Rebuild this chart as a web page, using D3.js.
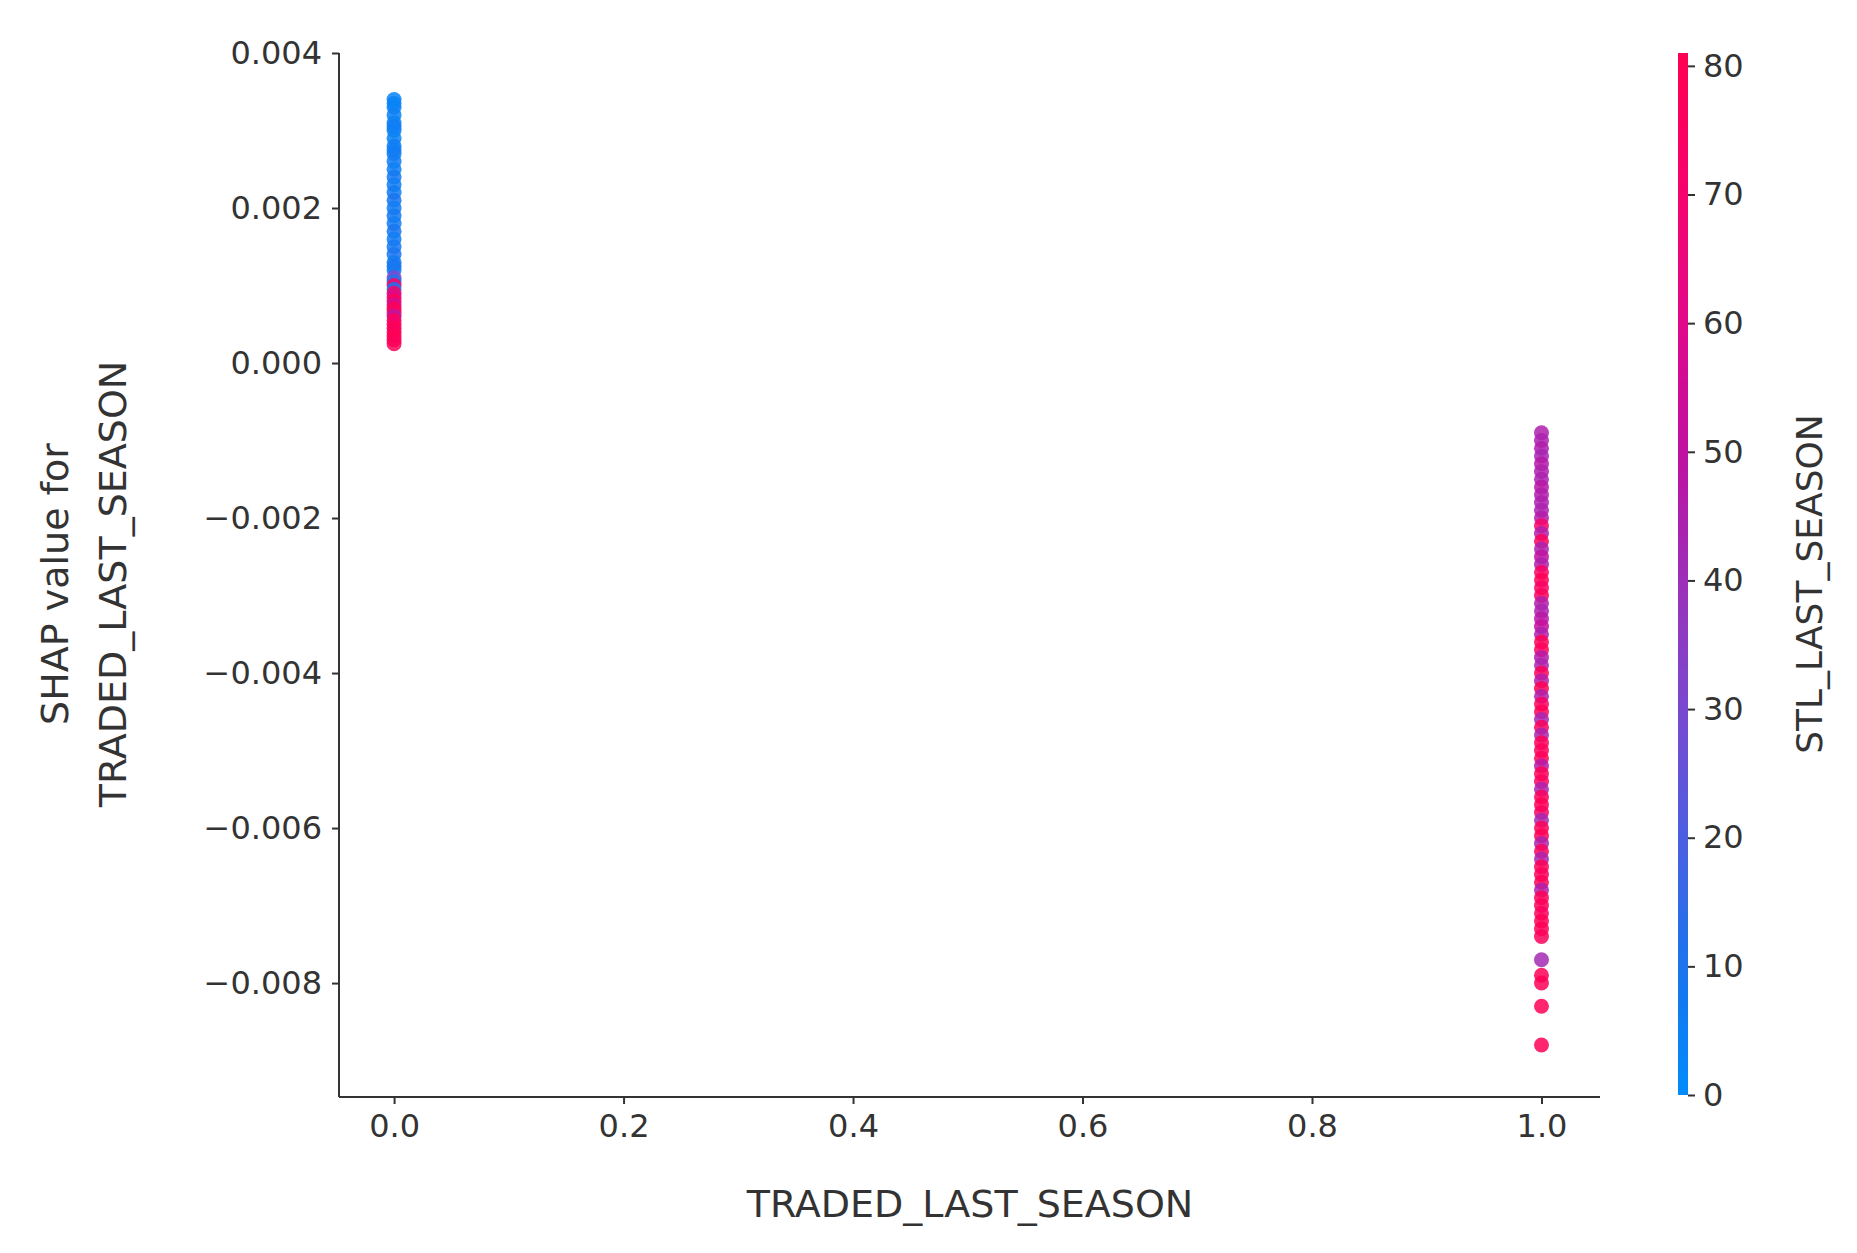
<!DOCTYPE html>
<html>
<head>
<script src="https://d3js.org/d3.v7.min.js"></script>
<style>
  body { margin: 0; background: #fff; }
  text { font-family: "DejaVu Sans", sans-serif; fill: #333; }
</style>
</head>
<body>
<script>
// group at TRADED_LAST_SEASON = 0
var shap0 = [0.0034, 0.00335, 0.0033, 0.0032, 0.0031, 0.00305, 0.003, 0.0029, 0.0028, 0.00275, 0.0027, 0.0026,
  0.0025, 0.0024, 0.0023, 0.0022, 0.0021, 0.002, 0.0019, 0.0018, 0.0017, 0.0016, 0.0015, 0.0014, 0.0013,
  0.00125, 0.0012, 0.0011, 0.00105, 0.001, 0.00095, 0.0009, 0.00085, 0.0008, 0.00075, 0.0007, 0.00065,
  0.0006, 0.00055, 0.0005, 0.00045, 0.0004, 0.00035, 0.0003, 0.00025];
var stl0 = [3, 4, 3, 5, 4, 6, 5, 4, 6, 5, 7, 6,
  5, 8, 6, 7, 9, 6, 8, 7, 9, 6, 8, 10, 7,
  9, 8, 30, 12, 75, 10, 72, 60, 78, 55, 80, 75,
  48, 78, 70, 80, 76, 79, 80, 78];
// group at TRADED_LAST_SEASON = 1
var shap1 = [-0.0009, -0.001, -0.0011, -0.0012, -0.0013, -0.0014, -0.0015, -0.0016, -0.0017, -0.0018,
  -0.0019, -0.002, -0.0021, -0.0022, -0.0023, -0.0024, -0.0025, -0.0026, -0.0027, -0.0028, -0.0029,
  -0.003, -0.0031, -0.0032, -0.0033, -0.0034, -0.0035, -0.0036, -0.0037, -0.0038, -0.0039, -0.004,
  -0.0041, -0.0042, -0.0043, -0.0044, -0.0045, -0.0046, -0.0047, -0.0048, -0.0049, -0.005, -0.0051,
  -0.0052, -0.0053, -0.0054, -0.0055, -0.0056, -0.0057, -0.0058, -0.0059, -0.006, -0.0061, -0.0062,
  -0.0063, -0.0064, -0.0065, -0.0066, -0.0067, -0.0068, -0.0069, -0.007, -0.0071, -0.0072, -0.0073,
  -0.0074, -0.0077, -0.0079, -0.008, -0.0083, -0.0088];
var stl1 = [45, 44, 46, 43, 47, 45, 44, 48, 46, 45,
  44, 47, 72, 46, 78, 44, 50, 45, 76, 80, 74,
  78, 46, 44, 48, 52, 45, 80, 77, 47, 44, 79,
  46, 81, 45, 76, 80, 43, 78, 44, 80, 77, 79,
  47, 80, 75, 44, 78, 80, 76, 42, 79, 80, 45,
  78, 44, 80, 77, 79, 45, 80, 78, 76, 80, 79,
  78, 42, 80, 79, 80, 80];
var xTicks = [0.0, 0.2, 0.4, 0.6, 0.8, 1.0];
var yTicks = [0.004, 0.002, 0.0, -0.002, -0.004, -0.006, -0.008];
var cTicks = [0, 10, 20, 30, 40, 50, 60, 70, 80];

var W = 1857, H = 1253;
var svg = d3.select("body").append("svg").attr("width", W).attr("height", H);

var x = d3.scaleLinear().domain([-0.048, 1.051]).range([339, 1600]);
var y = d3.scaleLinear().domain([-0.00947, 0.004]).range([1097, 53]);
var cmax = 81;
var color = d3.scaleLinear()
  .domain([0, 10, 20, 30, 40, 50, 60, 70, cmax])
  .range(["#008bfb", "#1a74ee", "#4a5fe0", "#7a48d0", "#9c30b8", "#c010a0", "#e0088a", "#f5036e", "#ff0052"]);

var fmt = function(d) { var s = d3.format(".3f")(Math.abs(d)); return (d < 0 ? "\u2212" : "") + s; };

var gx = svg.append("g").attr("transform", "translate(0,1097)")
  .call(d3.axisBottom(x).tickValues(xTicks).tickFormat(d3.format(".1f")).tickSize(7).tickPadding(10));
var gy = svg.append("g").attr("transform", "translate(339,0)")
  .call(d3.axisLeft(y).tickValues(yTicks).tickFormat(fmt).tickSize(7).tickPadding(10));
[gx, gy].forEach(function(g) {
  g.selectAll("text").style("font-size", "32px").style("font-family", "DejaVu Sans").attr("fill", "#333");
  g.selectAll("line, path").attr("stroke", "#333").attr("stroke-width", 2);
});
gx.select(".domain").attr("d", "M339,0H1600");
gy.select(".domain").attr("d", "M0,53V1097");

var pts = shap0.map(function(v, i) { return {x: 0, y: v, c: stl0[i]}; })
  .concat(shap1.map(function(v, i) { return {x: 1, y: v, c: stl1[i]}; }));
svg.append("g").selectAll("circle").data(pts).enter().append("circle")
  .attr("cx", function(d) { return x(d.x); })
  .attr("cy", function(d) { return y(d.y); })
  .attr("r", 7.5)
  .attr("fill", function(d) { return color(d.c); })
  .attr("opacity", 0.85);

// colorbar
var cb = d3.scaleLinear().domain([0, cmax]).range([1095, 53]);
var grad = svg.append("defs").append("linearGradient").attr("id", "cbg")
  .attr("x1", 0).attr("y1", 1).attr("x2", 0).attr("y2", 0);
d3.range(0, 1.01, 0.05).forEach(function(t) {
  grad.append("stop").attr("offset", t).attr("stop-color", color(t * cmax));
});
svg.append("rect").attr("x", 1678).attr("y", 53).attr("width", 10).attr("height", 1042).attr("fill", "url(#cbg)");
var gc = svg.append("g").attr("transform", "translate(1688,0)")
  .call(d3.axisRight(cb).tickValues(cTicks).tickSize(7).tickPadding(8));
gc.select(".domain").remove();
gc.selectAll("text").style("font-size", "32px").style("font-family", "DejaVu Sans").attr("fill", "#222");
gc.selectAll("line").attr("stroke", "#333").attr("stroke-width", 2);

svg.append("text").attr("transform", "translate(1822,584) rotate(-90)")
  .attr("text-anchor", "middle").style("font-size", "36px").text("STL_LAST_SEASON");
svg.append("text").attr("x", 970).attr("y", 1217).attr("text-anchor", "middle")
  .style("font-size", "38px").text("TRADED_LAST_SEASON");
var yl = svg.append("text").attr("transform", "translate(68,584) rotate(-90)")
  .attr("text-anchor", "middle").style("font-size", "38px");
yl.append("tspan").attr("x", 0).attr("dy", 0).text("SHAP value for");
yl.append("tspan").attr("x", 0).attr("dy", 58).text("TRADED_LAST_SEASON");
</script>
</body>
</html>
